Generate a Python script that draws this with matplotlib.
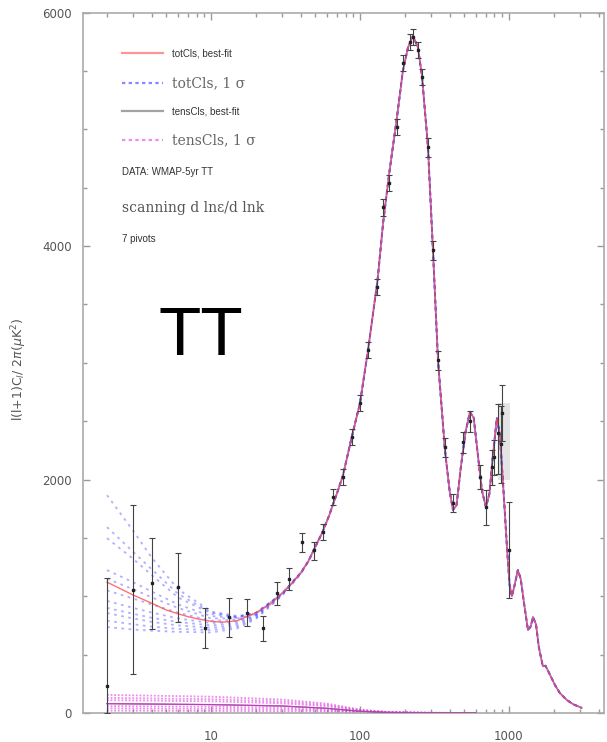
import matplotlib
matplotlib.use("Agg")
import matplotlib.pyplot as plt
from matplotlib.lines import Line2D
from matplotlib.ticker import FixedLocator, NullFormatter, FixedFormatter

# ---------------- data ----------------
# best-fit total Cl curve
bf_l = [2, 3, 4, 5, 6, 7, 8, 10, 12, 15, 20, 25, 30, 35, 40, 45, 50, 56, 62, 66, 70, 77, 88,
        100, 113, 131, 143, 157, 177, 194, 210, 227, 245, 261, 286, 309, 334, 372, 400, 421,
        445, 475, 510, 547, 580, 620, 660, 701, 740, 780, 830, 870, 920, 970, 1010, 1047,
        1090, 1148, 1200, 1260, 1342, 1400, 1450, 1520, 1590, 1690, 1760, 1850, 1950, 2037,
        2200, 2449, 2700, 3090]
bf_D = [1121, 1010, 940, 882, 850, 825, 808, 785, 778, 790, 860, 930, 1027, 1110, 1200, 1300,
        1421, 1550, 1690, 1790, 1880, 2040, 2363, 2654, 3100, 3700, 4200, 4620, 5100, 5500,
        5700, 5800, 5700, 5450, 4850, 3960, 3020, 2250, 1900, 1740, 1780, 2100, 2400, 2577,
        2530, 2200, 1900, 1764, 1880, 2200, 2526, 2380, 1900, 1421, 1100, 1000, 1090, 1224,
        1150, 950, 711, 740, 822, 760, 560, 400, 405, 350, 290, 240, 170, 111, 75, 43]

# 1-sigma total Cl curves at low l (join the best-fit above l=40)
sig_l = [2, 3, 4, 6, 10, 15, 20, 30, 40]
sig_1 = [1866, 1560, 1330, 1060, 870, 830, 860, 1020, 1200]
sig_2 = [1592, 1380, 1230, 1020, 860, 825, 855, 1020, 1200]
sig_3 = [1498, 1320, 1180, 990, 850, 820, 855, 1020, 1200]
sig_4 = [1224, 1120, 1040, 930, 830, 815, 855, 1025, 1200]
sig_5 = [1150, 1060, 990, 900, 810, 810, 850, 1025, 1200]
sig_6 = [1050, 980, 930, 860, 790, 800, 845, 1025, 1200]
sig_7 = [960, 900, 860, 810, 770, 785, 840, 1020, 1200]
sig_8 = [900, 850, 815, 780, 750, 770, 835, 1020, 1200]
sig_9 = [856, 810, 780, 750, 730, 755, 825, 1015, 1195]
sig_10 = [790, 760, 740, 720, 710, 740, 815, 1010, 1195]
sig_11 = [736, 715, 705, 695, 690, 725, 805, 1005, 1190]
sigma_curves = [sig_1, sig_2, sig_3, sig_4, sig_5, sig_6, sig_7, sig_8, sig_9, sig_10, sig_11]

# tensor Cl curves
ten_l = [2, 10, 30, 60, 100, 150, 300, 600]
ten_bf = [80, 72, 60, 40, 15, 5, 1, 0]
ten_1 = [155, 140, 115, 80, 30, 10, 2, 0]
ten_2 = [130, 118, 98, 68, 25, 8, 2, 0]
ten_3 = [110, 100, 83, 57, 21, 7, 1.5, 0]
ten_4 = [60, 54, 45, 31, 12, 4, 1, 0]
ten_5 = [40, 36, 30, 21, 8, 3, 0.5, 0]
ten_6 = [20, 18, 15, 10, 4, 1.5, 0.3, 0]
tensor_sigma = [ten_1, ten_2, ten_3, ten_4, ten_5, ten_6]

# WMAP-5yr TT data points
dat_l = [2, 3, 4, 6, 9.1, 13.2, 17.4, 22.3, 27.7, 33.4, 40.8, 49, 56, 66, 77, 88, 100, 113,
         131, 143, 157, 177, 194, 215, 227, 245, 261, 286, 309, 334, 372, 421, 491, 550, 638,
         701, 770, 790, 850, 880, 897, 1000]
dat_D = [231, 1053, 1113, 1079, 725, 822, 856, 728, 1027, 1147, 1464, 1395, 1550, 1849, 2020,
         2363, 2654, 3108, 3650, 4330, 4538, 5017, 5565, 5750, 5790, 5680, 5445, 4846, 3964,
         3022, 2277, 1798, 2320, 2500, 2020, 1764, 2106, 2190, 2400, 2300, 2568, 1395]
dat_lo = [231, 719, 394, 300, 169, 171, 111, 112, 102, 94, 86, 85, 70, 70, 70, 70, 70, 70,
          70, 70, 70, 70, 70, 70, 70, 70, 70, 80, 80, 80, 80, 80, 90, 90, 100, 150, 150, 150,
          350, 330, 240, 410]
dat_hi = [925, 728, 385, 291, 174, 163, 120, 102, 95, 94, 77, 69, 70, 70, 70, 70, 70, 70,
          70, 70, 70, 70, 70, 70, 70, 70, 70, 80, 80, 80, 80, 80, 90, 90, 100, 150, 150, 150,
          250, 330, 240, 410]

# light grey box behind the third-peak data
box_l = [843, 1012]
box_lo = [1995, 1995]
box_hi = [2654, 2654]

xticks_major = [10, 100, 1000]
xtick_labels = ["10", "100", "1000"]
yticks_major = [0, 2000, 4000, 6000]
ytick_labels = ["0", "2000", "4000", "6000"]

# ---------------- figure ----------------
W, H = 607, 742
fig = plt.figure(figsize=(W / 100, H / 100), dpi=100)
ax = fig.add_axes([83 / W, 1 - 713 / H, (604 - 83) / W, (713 - 12.5) / H])

RED = "#ff4d4d"
BLUE = "#3a3aff"
MAG = "#e040e0"
GRAY_TXT = "#555555"

ax.fill_between(box_l, box_lo, box_hi, color="#e4e4e4", lw=0, zorder=1)

# tensor sigma curves
for t in tensor_sigma:
    ax.plot(ten_l, t, color=MAG, lw=1.3, ls=(0, (1, 1)), alpha=0.6, zorder=2)
ax.plot(ten_l, ten_bf, color="#444444", lw=0.8, zorder=3)
ax.plot(ten_l, ten_bf, color=MAG, lw=1.0, alpha=0.7, zorder=3)

# total sigma curves
hi_idx = [i for i, l in enumerate(bf_l) if l > sig_l[-1]]
for s in sigma_curves:
    ls_ = list(sig_l) + [bf_l[i] for i in hi_idx]
    ds_ = list(s) + [bf_D[i] for i in hi_idx]
    ax.plot(ls_, ds_, color=BLUE, lw=1.3, ls=(0, (1.5, 2.5)), alpha=0.4, zorder=4)
# best fit on top
ax.plot(bf_l, bf_D, color=RED, lw=1.0, alpha=0.8, zorder=5)

# data
ax.errorbar(dat_l, dat_D, yerr=[dat_lo, dat_hi], fmt="s", ms=2, color="#222222",
            ecolor="#444444", elinewidth=0.8, capsize=2.2, capthick=0.8, zorder=6)

ax.set_xscale("log")
ax.set_xlim(1.38, 4350)
ax.set_ylim(0, 6000)

ax.xaxis.set_major_locator(FixedLocator(xticks_major))
ax.xaxis.set_major_formatter(FixedFormatter(xtick_labels))
ax.xaxis.set_minor_locator(FixedLocator([m * d for d in (1, 10, 100, 1000) for m in range(2, 10)
                                         if 1.38 < m * d < 4350]))
ax.xaxis.set_minor_formatter(NullFormatter())
ax.yaxis.set_major_locator(FixedLocator(yticks_major))
ax.yaxis.set_major_formatter(FixedFormatter(ytick_labels))
ax.yaxis.set_minor_locator(FixedLocator([500, 1000, 1500, 2500, 3000, 3500, 4500, 5000, 5500]))

ax.tick_params(which="both", direction="in", top=True, right=True, colors="#999999",
               labelcolor=GRAY_TXT, labelsize=8.5)
ax.tick_params(which="major", length=5, width=1)
ax.tick_params(which="minor", length=3, width=1)
ax.tick_params(axis="x", pad=12)
ax.tick_params(axis="y", pad=8)
for sp in ax.spines.values():
    sp.set_color("#aaaaaa")
    sp.set_linewidth(1.2)

ax.set_ylabel(r"l(l+1)C$_l$/ 2$\pi$($\mu$K$^2$)", fontsize=9, color=GRAY_TXT)
ax.yaxis.set_label_coords((29 - 83) / 521, 0.49)


def fx(px):
    return px / W


def fy(py):
    return 1 - py / H


# legend-like annotations
leg = [
    (53, RED, "-", "totCls, best-fit", "sans"),
    (83, BLUE, (0, (1.5, 1.5)), "totCls, 1 \u03c3", "serif"),
    (111, "#666666", "-", "tensCls, best-fit", "sans"),
    (140, MAG, (0, (1.5, 1.5)), "tensCls, 1 \u03c3", "serif"),
]
for py, col, lsty, txt, kind in leg:
    fig.add_artist(Line2D([fx(122), fx(163)], [fy(py), fy(py)], color=col, ls=lsty,
                          lw=1.6, alpha=0.6))
    if kind == "sans":
        fig.text(fx(172), fy(py), txt, fontsize=7, color="#333333", va="center",
                 family="Liberation Sans")
    else:
        fig.text(fx(172), fy(py), txt, fontsize=10, color="#666666", va="center",
                 family="DejaVu Serif")

fig.text(fx(122), fy(172), "DATA: WMAP-5yr TT", fontsize=7, color="#333333", va="center",
         family="Liberation Sans")
fig.text(fx(122), fy(208), "scanning d ln\u03b5/d lnk", fontsize=10, color="#555555",
         va="center", family="DejaVu Serif")
fig.text(fx(122), fy(239), "7 pivots", fontsize=7, color="#333333", va="center",
         family="Liberation Sans")

fig.text(fx(158), fy(337), "TT", fontsize=50, color="black", va="center",
         family="Liberation Sans")

fig.savefig("out.png", dpi=100)
